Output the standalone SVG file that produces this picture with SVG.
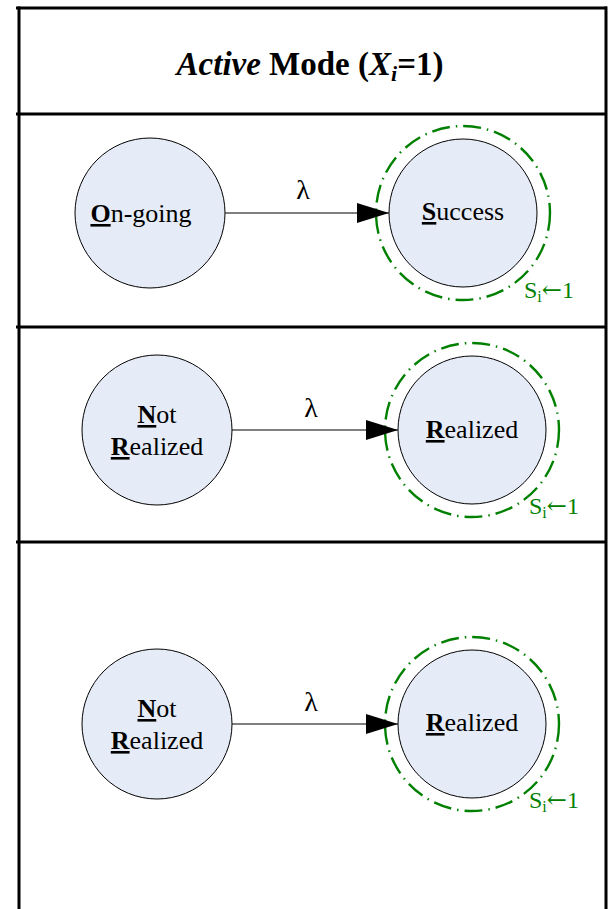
<svg xmlns="http://www.w3.org/2000/svg" width="609" height="909" viewBox="0 0 609 909">
  <style>
    .frame { stroke: #000; stroke-width: 3; fill: none; }
    .state { fill: #E6ECF7; stroke: #000; stroke-width: 1; }
    .final { fill: none; stroke: #008000; stroke-width: 2.4; stroke-dasharray: 18 6 1.5 6; }
    .serif { font-family: "Liberation Serif", "Times New Roman", serif; }
    .title { font-size: 33px; font-weight: bold; text-anchor: middle; fill: #000; }
    .lbl { font-size: 26px; fill: #000; text-anchor: middle; }
    .lam { font-size: 28px; fill: #000; text-anchor: middle; }
    .set { font-size: 24px; fill: #008000; }
    .sub { font-size: 16px; }
    .gets { font-family: "DejaVu Serif", serif; font-size: 24px; }
    .key { font-weight: bold; text-decoration: underline; }
    .edge { stroke: #000; stroke-width: 1.2; fill: none; marker-end: url(#arrow); }
  </style>
  <defs>
    <marker id="arrow" viewBox="0 0 32 20" refX="32" refY="10" markerWidth="32" markerHeight="20" markerUnits="userSpaceOnUse" orient="auto">
      <path d="M0,0 L32,10 L0,20 Z" fill="#000"/>
    </marker>
  </defs>
  <rect width="609" height="909" fill="#fff"/>

  <!-- table frame -->
  <g id="frame" class="frame">
    <line x1="16" y1="8" x2="607" y2="8"/>
    <line x1="19" y1="6.5" x2="19" y2="909"/>
    <line x1="606" y1="6.5" x2="606" y2="909"/>
    <line x1="16" y1="114" x2="607" y2="114"/>
    <line x1="16" y1="327" x2="607" y2="327"/>
    <line x1="16" y1="542" x2="607" y2="542"/>
  </g>

  <!-- header -->
  <g id="title">
    <text class="serif title" x="310" y="75"><tspan font-style="italic">Active</tspan> Mode (<tspan font-style="italic">X</tspan><tspan font-style="italic" font-size="22" dy="6">i</tspan><tspan dy="-6">=1)</tspan></text>
  </g>

  <!-- row 1 -->
  <g id="ongoing">
    <circle class="state" cx="150" cy="213" r="75"/>
    <text class="serif lbl" x="141" y="222" font-size="27"><tspan class="key">O</tspan>n-going</text>
  </g>
  <g id="success">
    <circle class="final" cx="463" cy="213" r="87"/>
    <circle class="state" cx="463" cy="213" r="74"/>
    <text class="serif lbl" x="463" y="220"><tspan class="key">S</tspan>uccess</text>
    <text class="serif set" x="524" y="298">S<tspan class="sub" dy="4">i</tspan><tspan class="gets" dy="-4">←</tspan>1</text>
  </g>

  <!-- row 2 -->
  <g id="notRealized1">
    <circle class="state" cx="157" cy="430" r="75"/>
    <text class="serif lbl" x="157" y="423"><tspan class="key">N</tspan>ot</text>
    <text class="serif lbl" x="157" y="455"><tspan class="key">R</tspan>ealized</text>
  </g>
  <g id="realized1">
    <circle class="final" cx="472" cy="430" r="87"/>
    <circle class="state" cx="472" cy="430" r="74"/>
    <text class="serif lbl" x="472" y="438"><tspan class="key">R</tspan>ealized</text>
    <text class="serif set" x="529" y="514">S<tspan class="sub" dy="4">i</tspan><tspan class="gets" dy="-4">←</tspan>1</text>
  </g>

  <!-- row 3 -->
  <g id="notRealized2">
    <circle class="state" cx="157" cy="724" r="75"/>
    <text class="serif lbl" x="157" y="717"><tspan class="key">N</tspan>ot</text>
    <text class="serif lbl" x="157" y="749"><tspan class="key">R</tspan>ealized</text>
  </g>
  <g id="realized2">
    <circle class="final" cx="472" cy="724" r="87"/>
    <circle class="state" cx="472" cy="724" r="74"/>
    <text class="serif lbl" x="472" y="731"><tspan class="key">R</tspan>ealized</text>
    <text class="serif set" x="529" y="808">S<tspan class="sub" dy="4">i</tspan><tspan class="gets" dy="-4">←</tspan>1</text>
  </g>

  <!-- transitions -->
  <g id="connectors">
    <line class="edge" x1="225" y1="213" x2="389" y2="213"/>
    <text class="serif lam" x="303" y="199">λ</text>
    <line class="edge" x1="232" y1="430" x2="398" y2="430"/>
    <text class="serif lam" x="311" y="417">λ</text>
    <line class="edge" x1="232" y1="724" x2="398" y2="724"/>
    <text class="serif lam" x="311" y="711">λ</text>
  </g>
</svg>
